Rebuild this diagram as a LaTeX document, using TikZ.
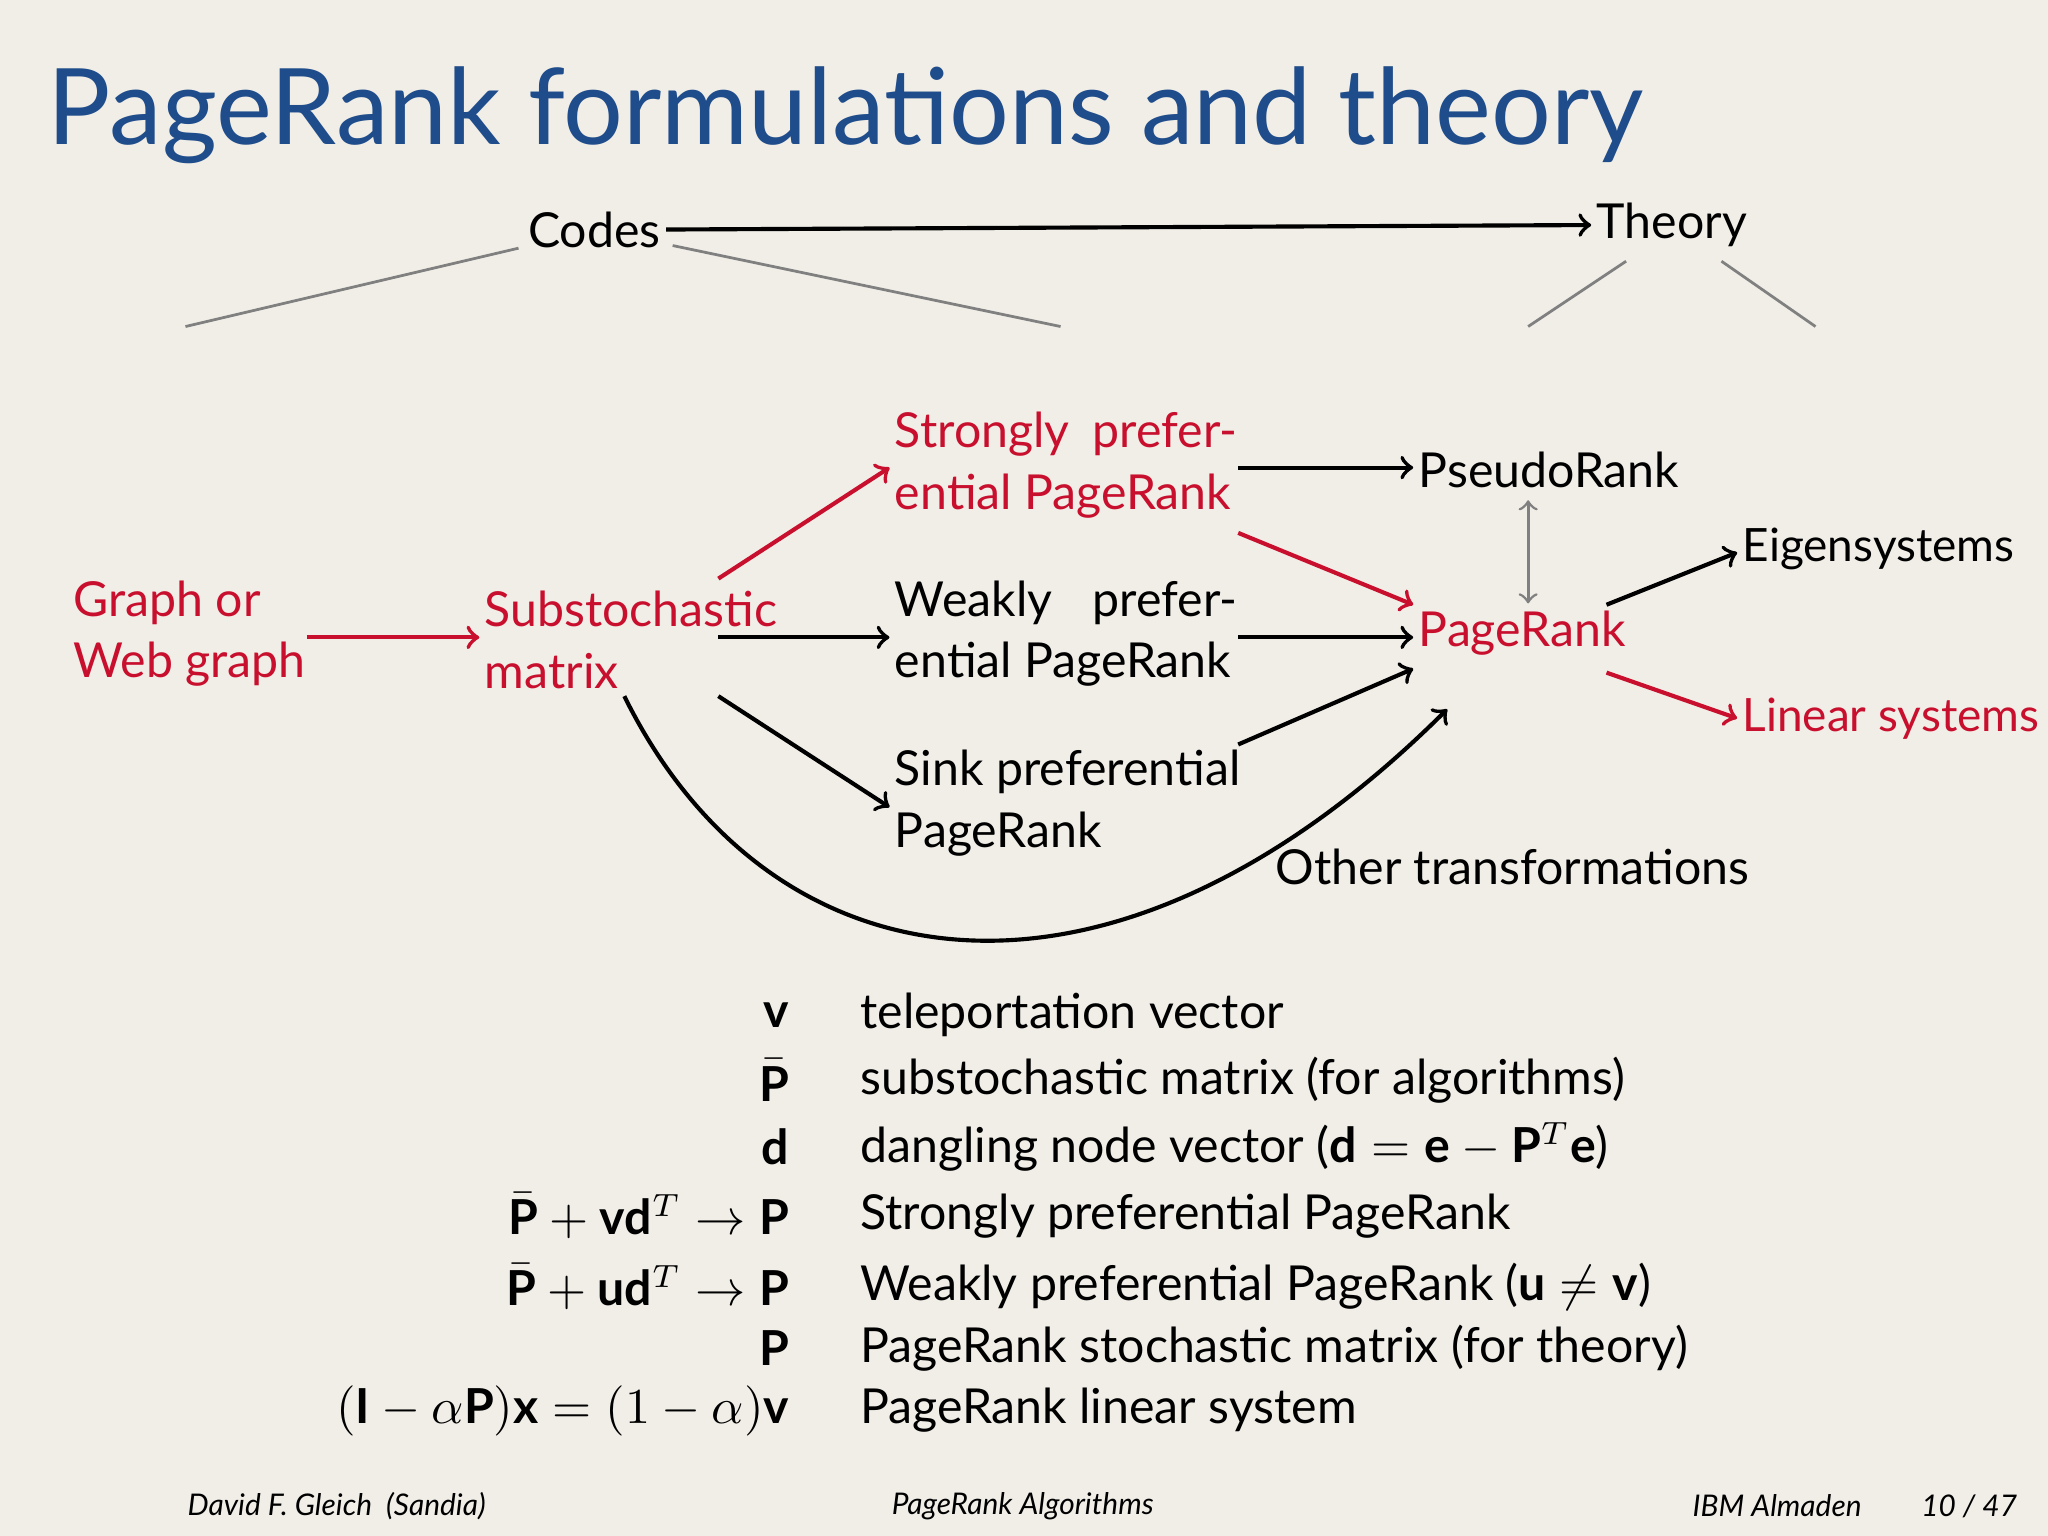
\documentclass[tikz,border=0pt]{standalone}
\usepackage{amsmath}
\usepackage{fontspec}
\setmainfont{Lato}
\usetikzlibrary{positioning}
\definecolor{bgcol}{HTML}{F1EEE7}
\definecolor{titleblue}{HTML}{1F4C8A}
\definecolor{rankred}{HTML}{C8102E}
\newcommand{\Pb}{\bar{\mathbf{P}}}
\newcommand{\spread}[2]{\makebox[2.62cm][s]{#1\hfill #2}}
\begin{document}
\begin{tikzpicture}[x=0.01cm,y=-0.01cm,
    txt/.style={font=\fontsize{10.5}{13.4}\selectfont, inner sep=1pt},
    red txt/.style={txt, text=rankred},
    small txt/.style={font=\fontsize{10}{12}\selectfont, inner sep=1pt},
    arr/.style={->, line width=0.9pt},
    red arr/.style={arr, draw=rankred},
    gray line/.style={draw=gray, line width=0.6pt},
    row/.style={font=\fontsize{10.5}{13}\selectfont, inner sep=0pt},
    foot/.style={font=\fontsize{6.5}{8}\selectfont\itshape, inner sep=0pt}]
    % Background
    \fill[bgcol] (0,0) rectangle (1568,1176);
    \useasboundingbox (0,0) rectangle (1568,1176);
    % Title
    \node[anchor=west, text=titleblue, font=\fontsize{23}{26}\selectfont, inner sep=0pt] (title) at (36,88) {PageRank formulations and theory};

    % Codes / Theory
    \node[txt] (codes) at (455,176) {Codes};
    \node[txt] (theory) at (1280,172) {Theory};
    \draw[arr] (codes) -- (theory);
    \draw[gray line] (397,190) -- (142,250);
    \draw[gray line] (515,188) -- (812,250);
    \draw[gray line] (1245,200) -- (1170,250);
    \draw[gray line] (1318,200) -- (1390,250);

    % Nodes
    \node[red txt, align=left, anchor=west] (graph) at (52,485) {Graph or\\Web graph};
    \node[red txt, align=left, anchor=west] (subst) at (367,490) {Substochastic\\matrix};
    \node[red txt, align=left, anchor=west] (strong) at (681,356) {\spread{Strongly}{prefer-}\\ential PageRank};
    \node[txt, align=left, anchor=west] (weak) at (681,485) {\spread{Weakly}{prefer-}\\ential PageRank};
    \node[txt, align=left, anchor=west] (sink) at (681,615) {Sink preferential\\PageRank};
    \node[txt, anchor=west] (pseudo) at (1082,360) {PseudoRank};
    \node[red txt, anchor=west] (pagerank) at (1082,485) {PageRank};
    \node[small txt, anchor=west] (eigen) at (1330,420) {Eigensystems};
    \node[small txt, text=rankred, anchor=west] (linear) at (1330,550) {Linear systems};
    \node[txt] (other) at (1158,664) {Other transformations};

    % Arrows
    \draw[red arr] (235,488) -- (subst.west |- 0,488);
    \draw[red arr] (550,443) -- (strong.west |- 0,358);
    \draw[arr] (550,488) -- (weak.west |- 0,488);
    \draw[arr] (550,533) -- (sink.west |- 0,618);
    \draw[arr] (478,533) .. controls (590,760) and (850,800) .. (1108,543);
    \draw[arr] (948,358) -- (pseudo.west |- 0,358);
    \draw[red arr] (948,408) -- (pagerank.west |- 0,463);
    \draw[arr] (948,488) -- (pagerank.west |- 0,488);
    \draw[arr] (948,570) -- (pagerank.west |- 0,512);
    \draw[<->, draw=gray, line width=0.6pt] (1170,383) -- (1170,462);
    \draw[arr] (1230,463) -- (eigen.west |- 0,423);
    \draw[red arr] (1230,515) -- (linear.west |- 0,550);

    % Notation table
    \node[row, anchor=east] (m1) at (605,777) {$\mathbf{v}$};
    \node[row, anchor=east] (m2) at (605,827) {$\Pb$};
    \node[row, anchor=east] (m3) at (605,878) {$\mathbf{d}$};
    \node[row, anchor=east] (m4) at (605,931) {$\Pb+\mathbf{v}\mathbf{d}^T\rightarrow\mathbf{P}$};
    \node[row, anchor=east] (m5) at (605,985) {$\Pb+\mathbf{u}\mathbf{d}^T\rightarrow\mathbf{P}$};
    \node[row, anchor=east] (m6) at (605,1032) {$\mathbf{P}$};
    \node[row, anchor=east] (m7) at (605,1080) {$(\mathbf{I}-\alpha\mathbf{P})\mathbf{x}=(1-\alpha)\mathbf{v}$};
    \node[row, anchor=west] (t1) at (658,777) {teleportation vector};
    \node[row, anchor=west] (t2) at (658,827) {substochastic matrix (for algorithms)};
    \node[row, anchor=west] (t3) at (658,878) {dangling node vector ($\mathbf{d}=\mathbf{e}-\mathbf{P}^T\mathbf{e}$)};
    \node[row, anchor=west] (t4) at (658,931) {Strongly preferential PageRank};
    \node[row, anchor=west] (t5) at (658,985) {Weakly preferential PageRank ($\mathbf{u}\neq\mathbf{v}$)};
    \node[row, anchor=west] (t6) at (658,1032) {PageRank stochastic matrix (for theory)};
    \node[row, anchor=west] (t7) at (658,1080) {PageRank linear system};

    % Footer
    \node[foot, anchor=west] (author) at (143,1153) {David F. Gleich\ \ (Sandia)};
    \node[foot] (talk) at (783,1153) {PageRank Algorithms};
    \node[foot, anchor=east] (place) at (1545,1153) {IBM Almaden\qquad 10 / 47};
\end{tikzpicture}
\end{document}
